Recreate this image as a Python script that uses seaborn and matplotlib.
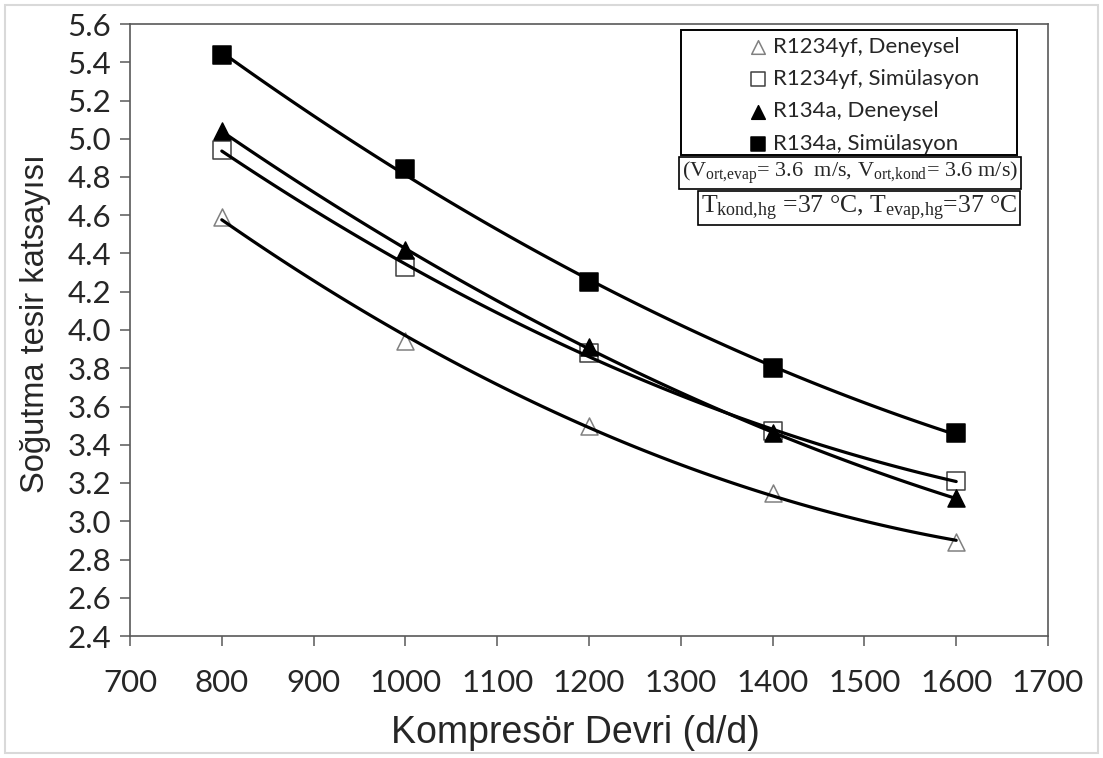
import numpy as np
import pandas as pd
import matplotlib
matplotlib.use("Agg")
import matplotlib.pyplot as plt
import seaborn as sns
from matplotlib.patches import Rectangle

# ---- data ----
speed = [800, 1000, 1200, 1400, 1600]
r1234yf_exp = [4.59, 3.94, 3.50, 3.15, 2.89]
r1234yf_sim = [4.94, 4.33, 3.88, 3.47, 3.21]
r134a_exp = [5.04, 4.42, 3.91, 3.46, 3.12]
r134a_sim = [5.44, 4.84, 4.25, 3.80, 3.46]
series_labels = ["R1234yf, Deneysel", "R1234yf, Simülasyon",
                 "R134a, Deneysel", "R134a, Simülasyon"]
x_ticks = [700, 800, 900, 1000, 1100, 1200, 1300, 1400, 1500, 1600, 1700]
y_ticks = [2.4, 2.6, 2.8, 3.0, 3.2, 3.4, 3.6, 3.8, 4.0, 4.2, 4.4, 4.6,
           4.8, 5.0, 5.2, 5.4, 5.6]
x_label = "Kompresör Devri (d/d)"
y_label = "Soğutma tesir katsayısı"
note1 = r"(V$_\mathrm{ort{,}evap}$= 3.6  m/s, V$_\mathrm{ort{,}kond}$= 3.6 m/s)"
note2 = r"T$_\mathrm{kond{,}hg}$ =37 °C, T$_\mathrm{evap{,}hg}$=37 °C"

sns.set_theme(style="white")
plt.rcParams["font.family"] = ["Lato", "DejaVu Sans"]
plt.rcParams["mathtext.fontset"] = "custom"
plt.rcParams["mathtext.rm"] = "Liberation Serif"
plt.rcParams["mathtext.it"] = "Liberation Serif:italic"
plt.rcParams["mathtext.bf"] = "Liberation Serif:bold"

values = [r1234yf_exp, r1234yf_sim, r134a_exp, r134a_sim]
df = pd.concat([pd.DataFrame({"speed": speed, "cop": v, "series": lab})
                for v, lab in zip(values, series_labels)], ignore_index=True)

styles = {
    "R1234yf, Deneysel": dict(marker="^", facecolor="white", edgecolor="#808080", s=150),
    "R1234yf, Simülasyon": dict(marker="s", facecolor="white", edgecolor="#404040", s=160),
    "R134a, Deneysel": dict(marker="^", facecolor="black", edgecolor="black", s=150),
    "R134a, Simülasyon": dict(marker="s", facecolor="black", edgecolor="black", s=160),
}

fig = plt.figure(figsize=(11.03, 7.58), dpi=100)
ax = fig.add_axes([130 / 1103, 1 - 636 / 758, (1048 - 130) / 1103, (636 - 24) / 758])

for lab in series_labels:
    sub = df[df["series"] == lab]
    st = styles[lab]
    sns.scatterplot(data=sub, x="speed", y="cop", ax=ax, marker=st["marker"],
                    s=st["s"], color=st["facecolor"], edgecolor=st["edgecolor"],
                    linewidth=1.1, label=lab, zorder=2)
for lab in series_labels:
    sub = df[df["series"] == lab]
    sns.regplot(data=sub, x="speed", y="cop", ax=ax, order=2, ci=None,
                scatter=False, truncate=True,
                line_kws=dict(color="black", lw=2.3, zorder=3, solid_capstyle="round"))

ax.set_xlim(700, 1700)
ax.set_ylim(2.4, 5.6)
ax.set_xticks(x_ticks)
ax.set_yticks(y_ticks)
ax.set_xticklabels([str(t) for t in x_ticks])
ax.set_yticklabels([f"{t:.1f}" for t in y_ticks])
ax.tick_params(axis="both", which="major", direction="out", length=7.5,
               width=1.1, color="#595959", labelsize=22.5, pad=6,
               bottom=True, left=True, top=False, right=False)
ax.tick_params(axis="x", pad=16)
for sp in ax.spines.values():
    sp.set_visible(True)
    sp.set_color("#595959")
    sp.set_linewidth(1.2)
ax.set_xlabel(x_label, fontsize=27, family=["Liberation Sans"], labelpad=13)
ax.set_ylabel(y_label, fontsize=23.5, family=["Liberation Sans"], labelpad=12)
ax.xaxis.label.set_x(0.485)
ax.yaxis.label.set_y(0.51)

# legend (markers only) with its own frame
handles, labs = ax.get_legend_handles_labels()
if ax.get_legend():
    ax.get_legend().remove()
leg = fig.legend(handles, labs, loc="upper left",
                 bbox_to_anchor=(749 / 1103, 1 - 37 / 758),
                 frameon=False, fontsize=16, markerscale=0.8,
                 handlelength=0.8, handletextpad=0.28, labelspacing=0.55,
                 borderpad=0, borderaxespad=0, scatterpoints=1)
fig.patches.append(Rectangle((681 / 1103, 1 - 155 / 758), (1017 - 681) / 1103,
                             (155 - 30) / 758, transform=fig.transFigure,
                             fill=False, edgecolor="black", lw=1.4))

fig.text(850 / 1103, 1 - 173 / 758, note1, ha="center", va="center",
         fontsize=16, family=["Liberation Serif"],
         bbox=dict(boxstyle="square,pad=0.12", fc="white", ec="black", lw=1.2))
fig.text(859 / 1103, 1 - 208 / 758, note2, ha="center", va="center",
         fontsize=18.5, family=["Liberation Serif"],
         bbox=dict(boxstyle="square,pad=0.1", fc="white", ec="black", lw=1.2))

# light outer frame around the figure
fig.patches.append(Rectangle((5 / 1103, 5 / 758), 1093 / 1103, 748 / 758,
                             transform=fig.transFigure, fill=False,
                             edgecolor="#d9d9d9", lw=1.5))

fig.savefig("out.png", dpi=100, facecolor="white")
